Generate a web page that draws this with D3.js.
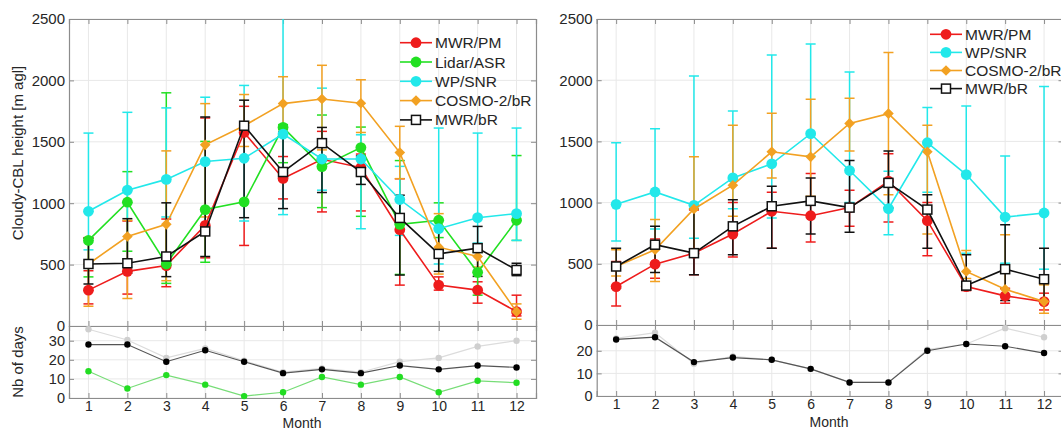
<!DOCTYPE html>
<html><head><meta charset="utf-8">
<script src="https://cdn.jsdelivr.net/npm/d3@7"></script>
<style>body{margin:0;background:#fff;}svg{display:block;font-family:Arial,"Liberation Sans",Helvetica,sans-serif;}</style>
</head><body>
<svg id="chart" width="1061" height="431"></svg>
<script>
// ---------- DATA ----------
const months = [1,2,3,4,5,6,7,8,9,10,11,12];
const heightTicks = [0,500,1000,1500,2000,2500];

// Left panel
const L_MWRPM    = [292,445,492,820,1576,1202,1358,1290,784,333,292,117];
const L_MWRPM_lo = [180,260,320,555,656,1035,929,937,333,292,186,82];
const L_MWRPM_hi = [450,855,871,1694,1789,1380,1585,1400,1199,400,360,251];
const L_Lidar    = [697,1008,505,948,1011,1617,1298,1453,828,861,437,861];
const L_Lidar_lo = [400,609,347,519,1011,1330,964,893,420,720,251,697];
const L_Lidar_hi = [716,1257,1899,1503,1011,1640,1718,1620,1347,1003,600,1388];
const L_WP       = [934,1106,1194,1339,1366,1563,1360,1360,1030,792,882,915];
const L_WP_lo    = [620,480,888,800,855,907,1106,792,738,505,675,697];
const L_WP_hi    = [1571,1740,1776,1863,1959,2700,1937,1557,1300,1612,1571,1612];
const L_COSMO    = [505,729,828,1475,1631,1811,1849,1814,1412,642,566,117];
const L_COSMO_lo = [161,224,369,888,1462,1600,1434,1576,1200,423,480,55];
const L_COSMO_hi = [720,860,1426,1811,1885,2030,2123,2005,1626,915,620,180];
const L_MWRbR    = [505,511,566,770,1631,1254,1489,1254,880,587,634,456];
const L_MWRbR_lo = [342,430,402,566,882,956,1087,1153,415,445,404,410];
const L_MWRbR_hi = [716,874,1003,1702,1839,1579,1617,1385,1065,861,811,511];

// Right panel
const R_MWRPM    = [314,497,587,743,929,893,959,1175,852,314,238,191];
const R_MWRPM_lo = [156,382,410,555,628,678,806,841,566,281,178,123];
const R_MWRPM_hi = [519,702,940,1000,1085,1238,1100,1400,1000,340,300,260];
const R_WP       = [986,1087,978,1202,1317,1563,1262,951,1489,1229,882,915];
const R_WP_lo    = [686,784,708,950,874,1380,1000,738,1085,587,505,456];
const R_WP_hi    = [1489,1604,2035,1748,2205,2295,2068,1257,1776,1789,1380,1948];
const R_COSMO    = [478,615,948,1142,1415,1374,1647,1727,1415,437,292,191];
const R_COSMO_lo = [400,355,600,888,1202,1052,1421,1065,743,380,230,96];
const R_COSMO_hi = [615,861,1374,1631,1729,1844,1852,2227,1631,609,738,328];
const R_MWRbR    = [478,656,587,806,970,1014,959,1161,943,322,456,374];
const R_MWRbR_lo = [300,429,410,574,628,743,757,956,628,287,200,200];
const R_MWRbR_hi = [628,806,948,1024,1134,1202,1344,1421,1065,574,820,628];

// Number of days
const L_days_all   = [36,30.4,21,26,19.5,13.5,15.5,13.5,19,21,27,30];
const L_days_mwr   = [28,28,19,25,19,13,15,13,17,15,17,16];
const L_days_lidar = [14,5,12,7,1,3,11,7,11,3,9,8];
const R_days_all   = [25.5,28,14.3,17.5,16,12,6,6,20.5,23,30,26];
const R_days_mwr   = [25,26,15,17,16,12,6,6,20,23,22,19];

const leftDaysTicks = [0,10,20,30];
const rightDaysTicks = [0,10,20];

// ---------- STYLE ----------
const C = {red:"#ee1c1c", green:"#22e022", cyan:"#22e8ea", orange:"#f2a122", black:"#111"};
const TXT = "#262626", AX = "#8c8c8c", GRID = "#e8e8e8";

const svg = d3.select("#chart");

function drawPanel(cfg){
  const g = svg.append("g");
  const x = d3.scaleLinear().domain([0.5,12.5]).range([cfg.x0,cfg.x1]);
  const y = d3.scaleLinear().domain([0,2500]).range([cfg.yb,cfg.yt]);
  const yd = d3.scaleLinear().domain([0,cfg.dmax]).range([cfg.db,cfg.yb]);
  const clipId = "clip"+cfg.id;
  svg.append("clipPath").attr("id",clipId).append("rect")
    .attr("x",cfg.x0).attr("y",cfg.yt).attr("width",cfg.x1-cfg.x0).attr("height",cfg.yb-cfg.yt);

  // grids
  const grid = g.append("g").attr("stroke",GRID).attr("stroke-width",1);
  months.forEach(m=>{
    grid.append("line").attr("x1",x(m)).attr("x2",x(m)).attr("y1",cfg.yt).attr("y2",cfg.db);
  });
  heightTicks.forEach(t=>{
    grid.append("line").attr("x1",cfg.x0).attr("x2",cfg.x1).attr("y1",y(t)).attr("y2",y(t));
  });
  cfg.dticks.forEach(t=>{
    grid.append("line").attr("x1",cfg.x0).attr("x2",cfg.x1).attr("y1",yd(t)).attr("y2",yd(t));
  });

  // axes (MATLAB style, ticks inside)
  const axL = d3.axisLeft(y).tickValues(heightTicks).tickSize(-5).tickPadding(4).tickFormat(d3.format("d"));
  const axR = d3.axisRight(y).tickValues(heightTicks).tickSize(-5).tickFormat("");
  const axT = d3.axisTop(x).tickValues(months).tickSize(-5).tickFormat("");
  const axB = d3.axisBottom(x).tickValues(months).tickSize(-5).tickFormat("");
  const axDL = d3.axisLeft(yd).tickValues(cfg.dticks).tickSize(-5).tickPadding(4);
  const axDR = d3.axisRight(yd).tickValues(cfg.dticks).tickSize(-5).tickFormat("");
  const axDB = d3.axisBottom(x).tickValues(months).tickSize(-5).tickPadding(3);
  const axDT = d3.axisTop(x).tickValues(months).tickSize(-5).tickFormat("");
  const style = a => {
    a.selectAll("path,line").attr("stroke",AX);
    a.selectAll("text").attr("fill",TXT).style("font-size","15px").style("font-family","Arial, 'Liberation Sans', sans-serif");
  };
  g.append("g").attr("transform",`translate(${cfg.x0},0)`).call(axL).call(style);
  g.append("g").attr("transform",`translate(${cfg.x1},0)`).call(axR).call(style);
  g.append("g").attr("transform",`translate(0,${cfg.yt})`).call(axT).call(style);
  g.append("g").attr("transform",`translate(0,${cfg.yb})`).call(axB).call(style);
  const dl = g.append("g").attr("transform",`translate(${cfg.x0},0)`).call(axDL).call(style);
  dl.selectAll("text").style("font-size","14.5px");
  g.append("g").attr("transform",`translate(${cfg.x1},0)`).call(axDR).call(style);
  g.append("g").attr("transform",`translate(0,${cfg.yb})`).call(axDT).call(style);
  const db = g.append("g").attr("transform",`translate(0,${cfg.db})`).call(axDB).call(style);
  db.selectAll("text").style("font-size","14px");
  g.selectAll(".domain").attr("stroke",AX).attr("stroke-width",1.2);

  // series
  const pg = g.append("g").attr("clip-path",`url(#${clipId})`);
  cfg.series.forEach(s=>{
    const eg = pg.append("g").attr("stroke",s.color).attr("stroke-width",1.5);
    months.forEach((m,i)=>{
      if (s.hi[i]===s.lo[i]) return;
      eg.append("line").attr("x1",x(m)).attr("x2",x(m)).attr("y1",y(s.lo[i])).attr("y2",y(s.hi[i]));
      [s.lo[i],s.hi[i]].forEach(v=>{
        eg.append("line").attr("x1",x(m)-5).attr("x2",x(m)+5).attr("y1",y(v)).attr("y2",y(v));
      });
    });
  });
  cfg.series.forEach(s=>{
    const line = d3.line().x((d,i)=>x(months[i])).y(d=>y(d));
    pg.append("path").datum(s.v).attr("d",line).attr("fill","none").attr("stroke",s.color).attr("stroke-width",1.6);
    s.v.forEach((v,i)=>drawMarker(pg,s,x(months[i]),y(v)));
  });

  // days panel
  const dg = g.append("g");
  cfg.days.forEach(s=>{
    const line = d3.line().x((d,i)=>x(months[i])).y(d=>yd(d));
    dg.append("path").datum(s.v).attr("d",line).attr("fill","none").attr("stroke",s.line).attr("stroke-width",1.2);
    dg.selectAll(null).data(s.v).enter().append("circle")
      .attr("cx",(d,i)=>x(months[i])).attr("cy",d=>yd(d)).attr("r",3.2).attr("fill",s.dot);
  });

  // legend
  const lg = g.append("g");
  cfg.series.forEach((s,i)=>{
    const yy = cfg.legY + i*cfg.legDy;
    lg.append("line").attr("x1",cfg.legX).attr("x2",cfg.legX+32).attr("y1",yy).attr("y2",yy)
      .attr("stroke",s.color).attr("stroke-width",1.6);
    drawMarker(lg,s,cfg.legX+16,yy);
    lg.append("text").attr("x",cfg.legX+35).attr("y",yy).attr("dy","0.36em")
      .attr("fill",TXT).style("font-size","15.5px").text(s.name);
  });

  // month label
  g.append("text").attr("x",cfg.monthX).attr("y",cfg.monthY)
    .attr("text-anchor","middle").attr("fill",TXT).style("font-size","14px").text("Month");
}

function drawMarker(sel,s,cx,cy){
  if (s.marker==="circle"){
    sel.append("circle").attr("cx",cx).attr("cy",cy).attr("r",5.4).attr("fill",s.color);
  } else if (s.marker==="diamond"){
    sel.append("path").attr("d",d3.symbol(d3.symbolDiamond2,72)()).attr("transform",`translate(${cx},${cy})`).attr("fill",s.color);
  } else {
    sel.append("rect").attr("x",cx-4.5).attr("y",cy-4.5).attr("width",9).attr("height",9)
      .attr("fill","#fff").attr("stroke",s.color).attr("stroke-width",1.5);
  }
}

drawPanel({
  id:"L", x0:69, x1:536, yt:19, yb:326, db:398, dmax:37.7, dticks:leftDaysTicks,
  legX:400, legY:42.7, legDy:19.3, monthY:427.7, monthX:302,
  series:[
    {name:"MWR/PM", color:C.red, marker:"circle", v:L_MWRPM, lo:L_MWRPM_lo, hi:L_MWRPM_hi},
    {name:"Lidar/ASR", color:C.green, marker:"circle", v:L_Lidar, lo:L_Lidar_lo, hi:L_Lidar_hi},
    {name:"WP/SNR", color:C.cyan, marker:"circle", v:L_WP, lo:L_WP_lo, hi:L_WP_hi},
    {name:"COSMO-2/bR", color:C.orange, marker:"diamond", v:L_COSMO, lo:L_COSMO_lo, hi:L_COSMO_hi},
    {name:"MWR/bR", color:C.black, marker:"square", v:L_MWRbR, lo:L_MWRbR_lo, hi:L_MWRbR_hi}
  ],
  days:[
    {v:L_days_all, line:"#dcdcdc", dot:"#cfcfcf"},
    {v:L_days_lidar, line:"#77dd77", dot:"#22dd22"},
    {v:L_days_mwr, line:"#555", dot:"#000"}
  ]
});

drawPanel({
  id:"R", x0:596.7, x1:1063.5, yt:19, yb:325, db:396, dmax:31.4, dticks:rightDaysTicks,
  legX:930, legY:34.3, legDy:18.1, monthY:426.5, monthX:829,
  series:[
    {name:"MWR/PM", color:C.red, marker:"circle", v:R_MWRPM, lo:R_MWRPM_lo, hi:R_MWRPM_hi},
    {name:"WP/SNR", color:C.cyan, marker:"circle", v:R_WP, lo:R_WP_lo, hi:R_WP_hi},
    {name:"COSMO-2/bR", color:C.orange, marker:"diamond", v:R_COSMO, lo:R_COSMO_lo, hi:R_COSMO_hi},
    {name:"MWR/bR", color:C.black, marker:"square", v:R_MWRbR, lo:R_MWRbR_lo, hi:R_MWRbR_hi}
  ],
  days:[
    {v:R_days_all, line:"#dcdcdc", dot:"#cfcfcf"},
    {v:R_days_mwr, line:"#555", dot:"#000"}
  ]
});

// y-axis titles
svg.append("text").attr("transform","translate(23,153) rotate(-90)").attr("text-anchor","middle")
  .attr("fill",TXT).style("font-size","15px").text("Cloudy-CBL height  [m agl]");
svg.append("text").attr("transform","translate(23,362) rotate(-90)").attr("text-anchor","middle")
  .attr("fill",TXT).style("font-size","15px").text("Nb of days");
</script>
</body></html>
